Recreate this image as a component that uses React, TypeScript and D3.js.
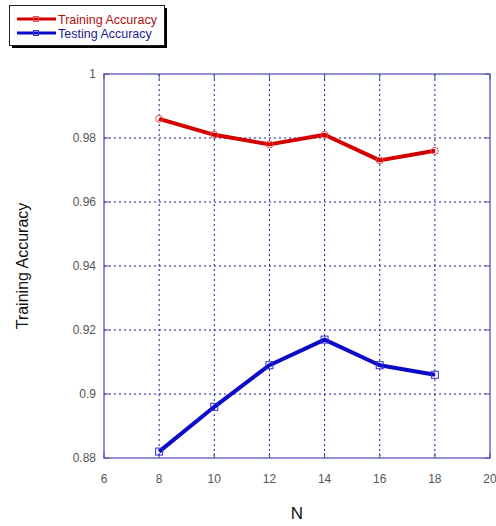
import React, { useRef, useEffect } from 'react';
import * as d3 from 'd3';

const nValues = [8, 10, 12, 14, 16, 18];
const trainingAcc = [0.986, 0.981, 0.978, 0.981, 0.973, 0.976];
const testingAcc = [0.882, 0.896, 0.909, 0.917, 0.909, 0.906];
const xTicks = [6, 8, 10, 12, 14, 16, 18, 20];
const yTicks = [0.88, 0.9, 0.92, 0.94, 0.96, 0.98, 1];

function App() {
  const ref = useRef<SVGSVGElement>(null);

  useEffect(() => {
    const node = ref.current!;
    node.querySelectorAll('*').forEach(n => n.remove());
    const svg = d3.select(node);

    const left = 104, right = 490, top = 74, bottom = 458;
    const x = d3.scaleLinear().domain([6, 20]).range([left, right]);
    const y = d3.scaleLinear().domain([0.88, 1]).range([bottom, top]);
    const font = 'Arial, "Liberation Sans", sans-serif';

    svg.append('rect').attr('width', 496).attr('height', 526).attr('fill', '#fff');

    // grid
    const grid = svg.append('g').attr('stroke', '#1a1a8c').attr('stroke-width', 1).attr('stroke-dasharray', '2,3');
    grid.selectAll('line.v').data(xTicks.slice(1, -1)).join('line')
      .attr('x1', d => x(d)).attr('x2', d => x(d)).attr('y1', top).attr('y2', bottom);
    grid.selectAll('line.h').data(yTicks.slice(1, -1)).join('line')
      .attr('x1', left).attr('x2', right).attr('y1', d => y(d)).attr('y2', d => y(d));

    // frame
    svg.append('rect').attr('x', left).attr('y', top).attr('width', right - left).attr('height', bottom - top)
      .attr('fill', 'none').attr('stroke', '#4a48b0').attr('stroke-width', 1.2);

    // tick marks
    const ticks = svg.append('g').attr('stroke', '#4a48b0');
    ticks.selectAll('line.yl').data(yTicks).join('line')
      .attr('x1', left).attr('x2', left + 5).attr('y1', d => y(d)).attr('y2', d => y(d));
    ticks.selectAll('line.yr').data(yTicks).join('line')
      .attr('x1', right).attr('x2', right - 5).attr('y1', d => y(d)).attr('y2', d => y(d));
    ticks.selectAll('line.xb').data(xTicks).join('line')
      .attr('x1', d => x(d)).attr('x2', d => x(d)).attr('y1', bottom).attr('y2', bottom - 5);
    ticks.selectAll('line.xt').data(xTicks).join('line')
      .attr('x1', d => x(d)).attr('x2', d => x(d)).attr('y1', top).attr('y2', top + 5);

    // tick labels
    svg.append('g').selectAll('text').data(yTicks).join('text')
      .attr('x', left - 8).attr('y', d => y(d) + 4).attr('text-anchor', 'end')
      .attr('font-family', font).attr('font-size', 12).attr('fill', '#555')
      .text(d => d3.format('~g')(d));
    svg.append('g').selectAll('text').data(xTicks).join('text')
      .attr('x', d => x(d)).attr('y', bottom + 25).attr('text-anchor', 'middle')
      .attr('font-family', font).attr('font-size', 12).attr('fill', '#555')
      .text(d => d);

    // axis titles
    svg.append('text').attr('x', x(13)).attr('y', 519).attr('text-anchor', 'middle')
      .attr('font-family', font).attr('font-size', 17).attr('fill', '#111').text('N');
    svg.append('text').attr('transform', `translate(28,${(top + bottom) / 2}) rotate(-90)`)
      .attr('text-anchor', 'middle').attr('font-family', font).attr('font-size', 16).attr('fill', '#111')
      .text('Training Accuracy');

    const line = d3.line<number>().x((_, i) => x(nValues[i])).y(d => y(d));

    // training
    svg.append('path').datum(trainingAcc).attr('d', line).attr('fill', 'none')
      .attr('stroke', '#d40000').attr('stroke-width', 4).attr('stroke-linejoin', 'round');
    svg.append('g').selectAll('circle').data(trainingAcc).join('circle')
      .attr('cx', (_, i) => x(nValues[i])).attr('cy', d => y(d)).attr('r', 3.5)
      .attr('fill', 'none').attr('stroke', '#e05050').attr('stroke-width', 1);

    // testing
    svg.append('path').datum(testingAcc).attr('d', line).attr('fill', 'none')
      .attr('stroke', '#0a0ac8').attr('stroke-width', 4).attr('stroke-linejoin', 'round');
    svg.append('g').selectAll('rect').data(testingAcc).join('rect')
      .attr('x', (_, i) => x(nValues[i]) - 3.5).attr('y', d => y(d) - 3.5).attr('width', 7).attr('height', 7)
      .attr('fill', 'none').attr('stroke', '#3030d0').attr('stroke-width', 1);

    // legend
    const lg = svg.append('g');
    lg.append('rect').attr('x', 12).attr('y', 8).attr('width', 155).attr('height', 40).attr('fill', '#000');
    lg.append('rect').attr('x', 9.5).attr('y', 5.5).attr('width', 155).attr('height', 40)
      .attr('fill', '#fff').attr('stroke', '#222').attr('stroke-width', 1);
    const items = [
      { label: 'Training Accuracy', color: '#d40000', text: '#b01010', mark: '#e05050' },
      { label: 'Testing Accuracy', color: '#0a0ac8', text: '#1a1a90', mark: '#3030d0' },
    ];
    items.forEach((it, i) => {
      const yy = 19 + i * 14;
      lg.append('line').attr('x1', 17).attr('x2', 56).attr('y1', yy).attr('y2', yy)
        .attr('stroke', it.color).attr('stroke-width', 3);
      lg.append('rect').attr('x', 33.5).attr('y', yy - 2.5).attr('width', 5).attr('height', 5)
        .attr('fill', 'none').attr('stroke', it.mark);
      lg.append('text').attr('x', 58).attr('y', yy + 4.5).attr('font-family', font).attr('font-size', 12.5)
        .attr('fill', it.text).text(it.label);
    });
  }, []);

  return <svg width={496} height={526} ref={ref} style={{ position: 'fixed', left: 0, top: 0 }}></svg>;
}

export default App;
